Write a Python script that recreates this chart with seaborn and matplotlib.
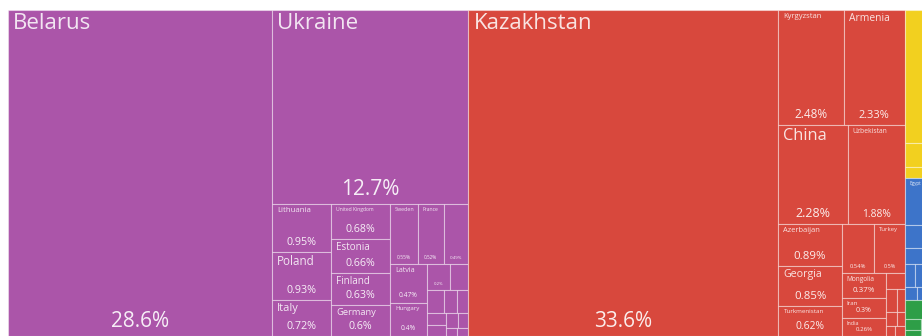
import matplotlib
matplotlib.use("Agg")
import matplotlib.pyplot as plt
import seaborn as sns
from matplotlib.patches import Rectangle

# share of exports by destination (%)
europe_names = ["Belarus", "Ukraine", "Lithuania", "Poland", "Italy", "United Kingdom",
                "Estonia", "Finland", "Germany", "Sweden", "France", "Moldova", "Latvia",
                "Hungary", "Netherlands", "Serbia", "Czechia", "Switzerland", "Spain",
                "Bulgaria", "Romania", "Austria", "Slovakia", "Norway", "Greece"]
europe_values = [28.6, 12.7, 0.95, 0.93, 0.72, 0.68, 0.66, 0.63, 0.6, 0.55, 0.52, 0.49,
                 0.47, 0.4, 0.2, 0.16, 0.13, 0.1, 0.09, 0.08, 0.07, 0.06, 0.05, 0.03, 0.03]

asia_names = ["Kazakhstan", "Kyrgyzstan", "Armenia", "China", "Uzbekistan", "Azerbaijan",
              "Georgia", "Turkmenistan", "Tajikistan", "Turkey", "Mongolia", "Iran", "India",
              "South Korea", "Japan", "Israel", "United Arab Emirates", "Vietnam",
              "Saudi Arabia", "Syria"]
asia_values = [33.6, 2.48, 2.33, 2.28, 1.88, 0.89, 0.85, 0.62, 0.54, 0.5, 0.37, 0.3, 0.26,
               0.1, 0.08, 0.06, 0.05, 0.04, 0.03, 0.03]

namerica_names = ["United States", "Canada", "Mexico"]
namerica_values = [0.85, 0.15, 0.07]

africa_names = ["Egypt", "Algeria", "Morocco", "Nigeria", "South Africa", "Tunisia", "Libya"]
africa_values = [0.3, 0.15, 0.1, 0.08, 0.07, 0.05, 0.03]

samerica_names = ["Brazil", "Argentina", "Chile", "Peru"]
samerica_values = [0.12, 0.06, 0.03, 0.02]

group_names = ["Europe", "Asia", "North America", "Africa", "South America"]
group_colors = ["#AB55A9", "#D8483D", "#F2D01F", "#3D74C9", "#2E9E47"]

W, H = 916.0, 326.0
PHI = (1 + 5 ** 0.5) / 2


def squarify(values, x0, y0, x1, y1, ratio=PHI):
    # same squarified layout as d3.treemapSquarify (values sorted descending)
    rects = []
    n = len(values)
    value = float(sum(values))
    i0 = i1 = 0
    while i0 < n:
        dx, dy = x1 - x0, y1 - y0
        sum_v = values[i1]
        i1 += 1
        min_v = max_v = sum_v
        alpha = max(dy / dx, dx / dy) / (value * ratio)
        beta = sum_v * sum_v * alpha
        min_ratio = max(max_v / beta, beta / min_v)
        while i1 < n:
            v = values[i1]
            s = sum_v + v
            mn, mx = min(min_v, v), max(max_v, v)
            beta = s * s * alpha
            new_ratio = max(mx / beta, beta / mn)
            if new_ratio > min_ratio:
                break
            sum_v, min_v, max_v, min_ratio = s, mn, mx, new_ratio
            i1 += 1
        row = values[i0:i1]
        if dx < dy:
            yy = y0 + dy * sum_v / value
            xx = x0
            for v in row:
                w = (x1 - x0) * v / sum_v
                rects.append((xx, y0, w, yy - y0))
                xx += w
            y0 = yy
        else:
            xx = x0 + dx * sum_v / value
            yy = y0
            for v in row:
                h = (y1 - y0) * v / sum_v
                rects.append((x0, yy, xx - x0, h))
                yy += h
            x0 = xx
        value -= sum_v
        i0 = i1
    return rects


def label_cell(ax, name, val, x, y, w, h):
    pct = f"{val:.3g}%"
    pct_fs = min(15, 0.13 * w, 0.25 * h)
    name_fs = min(16, 0.85 * w / len(name), 0.22 * h)
    px = 100 / 72
    if pct_fs >= 3:
        ax.text(x + w / 2, y + h - 4, pct, ha="center", va="bottom",
                fontsize=pct_fs, color="white", alpha=0.9)
    if name_fs >= 3 and h >= (name_fs + max(pct_fs, 0)) * px * 1.3:
        ax.text(x + 5, y + 3, name, ha="left", va="top",
                fontsize=name_fs, color="white", alpha=0.85)


groups = [
    (europe_names, europe_values),
    (asia_names, asia_values),
    (namerica_names, namerica_values),
    (africa_names, africa_values),
    (samerica_names, samerica_values),
]

sns.set_theme(style="white")
plt.rcParams["font.family"] = ["Open Sans", "DejaVu Sans"]
palette = sns.color_palette(group_colors)

fig = plt.figure(figsize=(9.22, 3.36), dpi=100)
ax = fig.add_axes([8 / 922, 0, W / 922, H / 336])
ax.set_xlim(0, W)
ax.set_ylim(H, 0)
ax.axis("off")

totals = [sum(v) for _, v in groups]
order = sorted(range(len(groups)), key=lambda i: -totals[i])
group_rects = squarify([totals[i] for i in order], 0, 0, W, H)

for gi, (gx, gy, gw, gh) in zip(order, group_rects):
    names, vals = groups[gi]
    idx = sorted(range(len(vals)), key=lambda i: -vals[i])
    cells = squarify([vals[i] for i in idx], gx, gy, gx + gw, gy + gh)
    for i, (cx, cy, cw, ch) in zip(idx, cells):
        ax.add_patch(Rectangle((cx, cy), cw, ch, facecolor=palette[gi],
                               edgecolor=(1, 1, 1, 0.4), linewidth=0.8))
        label_cell(ax, names[i], vals[i], cx, cy, cw, ch)

fig.savefig("out.png", dpi=100)
